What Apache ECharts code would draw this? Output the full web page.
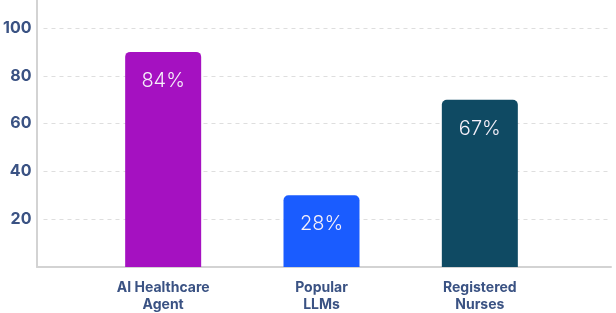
<!DOCTYPE html>
<html>
<head>
<meta charset="utf-8">
<script src="https://cdn.jsdelivr.net/npm/echarts@6/dist/echarts.min.js"></script>
<style>html,body{margin:0;padding:0;background:#fff}#c{width:616px;height:313px}</style>
</head>
<body>
<div id="c"></div>
<script>
const categories = ['AI Healthcare\nAgent', 'Popular\nLLMs', 'Registered\nNurses'];
const barValues = [90, 30, 70];
const barLabels = ['84%', '28%', '67%'];
const barColors = ['#a511c1', '#1a5cff', '#0f4a63'];
const yTicks = [0, 20, 40, 60, 80, 100];

const chart = echarts.init(document.getElementById('c'), null, {renderer: 'canvas'});
const labelColor = '#3a5283';
chart.setOption({
  animation: false,
  grid: [
    {left: 37, right: 5, top: 0, bottom: 46},
    {left: 37, right: 5, top: 28, bottom: 46},
    {left: 84, width: 475, top: 28, bottom: 46}
  ],
  xAxis: [
    {gridIndex: 0, type: 'category', data: [''], axisLine: {show: true, lineStyle: {color: '#d3d3d3', width: 2}}, axisTick: {show: false}, axisLabel: {show: false}},
    {gridIndex: 1, type: 'category', data: [''], show: false},
    {gridIndex: 2, type: 'category', data: categories, axisLine: {show: false}, axisTick: {show: false},
      axisLabel: {color: labelColor, fontFamily: 'Inter', fontWeight: 'bold', fontSize: 14, lineHeight: 17, margin: 12}}
  ],
  yAxis: [
    {gridIndex: 0, type: 'value', min: 0, max: 111, axisLine: {show: true, lineStyle: {color: '#d3d3d3', width: 2}}, axisTick: {show: false}, axisLabel: {show: false}, splitLine: {show: false}},
    {gridIndex: 1, type: 'value', min: yTicks[0], max: yTicks[yTicks.length - 1], interval: 20, axisLine: {show: false}, axisTick: {show: false},
      axisLabel: {color: labelColor, fontFamily: 'Inter', fontWeight: 'bold', fontSize: 16, margin: 12, formatter: v => v === 0 ? '' : v},
      splitLine: {show: true, lineStyle: {color: '#dedede', type: [4, 4], width: 1}}},
    {gridIndex: 2, type: 'value', min: 0, max: 100, show: false}
  ],
  series: [{
    type: 'bar',
    xAxisIndex: 2,
    yAxisIndex: 2,
    barWidth: 76,
    data: barValues.map((v, i) => ({value: v, itemStyle: {color: barColors[i], borderRadius: [5, 5, 0, 0]}})),
    label: {
      show: true,
      position: 'insideTop',
      distance: 19,
      color: '#f6f0fa',
      fontFamily: 'Inter',
      fontWeight: 300,
      fontSize: 20,
      formatter: p => barLabels[p.dataIndex]
    }
  }]
});
</script>
</body>
</html>
